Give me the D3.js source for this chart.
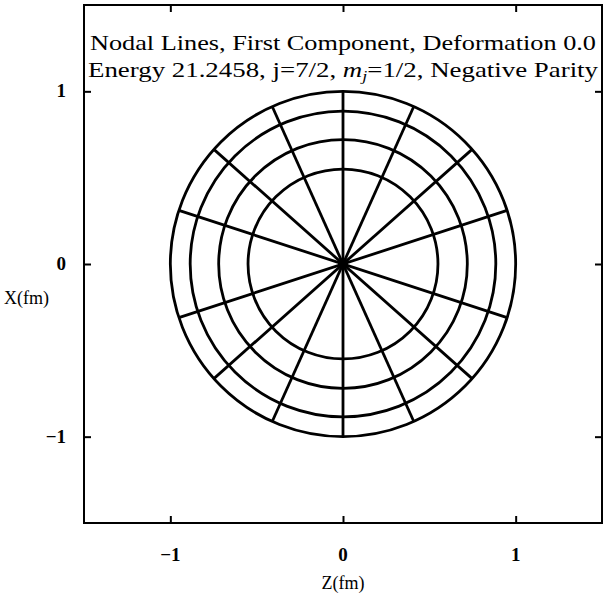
<!DOCTYPE html>
<html>
<head>
<meta charset="utf-8">
<script src="https://cdnjs.cloudflare.com/ajax/libs/d3/7.8.5/d3.min.js"></script>
<style>
  body { margin: 0; background: #fff; }
  text { font-family: "Liberation Serif", "DejaVu Serif", serif; fill: #000; }
</style>
</head>
<body>
<div class="chart"></div>
<script>
// tick values on both axes
var tickValues = [-1, 0, 1];
var tickLabels = ["\u22121", "0", "1"];
// radii (fm) of the circular nodal lines
var circleRadii = [0.55, 0.72, 0.885, 1.0];
// polar angles (deg, measured from Z axis) of the straight nodal lines
var nodalAngles = [18.1, 41.6, 65.8, 90, 114.2, 138.4, 161.9];
var titleLine1 = "Nodal Lines, First Component, Deformation 0.0";

var w = 608, h = 599;
var svg = d3.select("div.chart").append("svg")
  .attr("width", w)
  .attr("height", h);

var x = d3.scaleLinear().domain([-1.5, 1.5]).range([84, 602]);
var y = d3.scaleLinear().domain([-1.5, 1.5]).range([523, 5]);

// frame
svg.append("rect")
  .attr("x", x(-1.5)).attr("y", y(1.5))
  .attr("width", x(1.5) - x(-1.5))
  .attr("height", y(-1.5) - y(1.5))
  .attr("fill", "none").attr("stroke", "#000").attr("stroke-width", 2);

// inward ticks on all four sides
var tl = 7;
svg.append("g").attr("transform", "translate(0," + y(-1.5) + ")")
  .call(d3.axisTop(x).tickValues(tickValues).tickSize(tl).tickFormat(""))
  .call(function(g) { g.select(".domain").remove(); });
svg.append("g").attr("transform", "translate(0," + y(1.5) + ")")
  .call(d3.axisBottom(x).tickValues(tickValues).tickSize(tl).tickFormat(""))
  .call(function(g) { g.select(".domain").remove(); });
svg.append("g").attr("transform", "translate(" + x(-1.5) + ",0)")
  .call(d3.axisRight(y).tickValues(tickValues).tickSize(tl).tickFormat(""))
  .call(function(g) { g.select(".domain").remove(); });
svg.append("g").attr("transform", "translate(" + x(1.5) + ",0)")
  .call(d3.axisLeft(y).tickValues(tickValues).tickSize(tl).tickFormat(""))
  .call(function(g) { g.select(".domain").remove(); });
svg.selectAll(".tick line").attr("stroke", "#000").attr("stroke-width", 2);

// tick labels
svg.selectAll("text.xl")
  .data(tickValues)
  .enter().append("text")
  .attr("class", "xl")
  .attr("x", function(d) { return x(d); })
  .attr("y", 561)
  .attr("text-anchor", "middle")
  .attr("font-size", "19px")
  .attr("font-weight", "bold")
  .text(function(d, i) { return tickLabels[i]; });

svg.selectAll("text.yl")
  .data(tickValues)
  .enter().append("text")
  .attr("class", "yl")
  .attr("x", 66)
  .attr("y", function(d) { return y(d) + 6; })
  .attr("text-anchor", "end")
  .attr("font-size", "19px")
  .attr("font-weight", "bold")
  .text(function(d, i) { return tickLabels[i]; });

// axis titles
svg.append("text")
  .attr("x", x(0)).attr("y", 589)
  .attr("text-anchor", "middle")
  .attr("font-size", "18px")
  .text("Z(fm)");
svg.append("text")
  .attr("x", 4).attr("y", 304)
  .attr("font-size", "18px")
  .text("X(fm)");

// title
svg.append("text")
  .attr("x", x(0)).attr("y", 50)
  .attr("text-anchor", "middle")
  .attr("font-size", "21px")
  .attr("textLength", 506)
  .attr("lengthAdjust", "spacingAndGlyphs")
  .text(titleLine1);
var t2 = svg.append("text")
  .attr("x", x(0)).attr("y", 77)
  .attr("text-anchor", "middle")
  .attr("font-size", "21px")
  .attr("textLength", 510)
  .attr("lengthAdjust", "spacingAndGlyphs");
t2.append("tspan").text("Energy 21.2458, j=7/2, ");
t2.append("tspan").attr("font-style", "italic").text("m");
t2.append("tspan").attr("font-style", "italic").attr("font-size", "14px").attr("dy", 4).text("j");
t2.append("tspan").attr("dy", -4).text("=1/2, Negative Parity");

// nodal circles
var plot = svg.append("g");
plot.selectAll("ellipse")
  .data(circleRadii)
  .enter().append("ellipse")
  .attr("cx", x(0)).attr("cy", y(0))
  .attr("rx", function(d) { return x(d) - x(0); })
  .attr("ry", function(d) { return y(0) - y(d); })
  .attr("fill", "none")
  .attr("stroke", "#000")
  .attr("stroke-width", 2.8);

// straight nodal lines (diameters)
var rMax = d3.max(circleRadii);
plot.selectAll("line.nodal")
  .data(nodalAngles)
  .enter().append("line")
  .attr("class", "nodal")
  .attr("x1", function(d) { return x(rMax * Math.cos(d * Math.PI / 180)); })
  .attr("y1", function(d) { return y(rMax * Math.sin(d * Math.PI / 180)); })
  .attr("x2", function(d) { return x(-rMax * Math.cos(d * Math.PI / 180)); })
  .attr("y2", function(d) { return y(-rMax * Math.sin(d * Math.PI / 180)); })
  .attr("stroke", "#000")
  .attr("stroke-width", 2.8);

plot.append("circle")
  .attr("cx", x(0)).attr("cy", y(0)).attr("r", 5)
  .attr("fill", "#000");
</script>
</body>
</html>
